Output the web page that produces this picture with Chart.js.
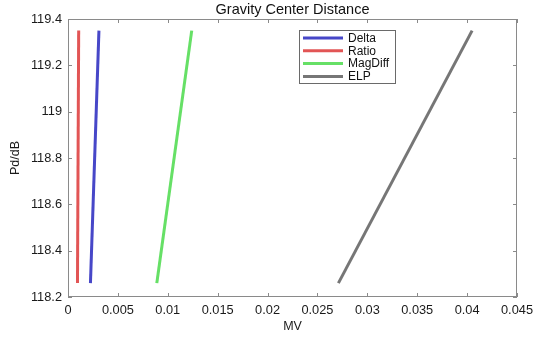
<!DOCTYPE html>
<html>
<head>
<meta charset="utf-8">
<script src="https://cdn.jsdelivr.net/npm/chart.js@4"></script>
<style>
html,body{margin:0;padding:0;background:#fff;}
#wrap{width:533px;height:338px;}
</style>
</head>
<body>
<div id="wrap"><canvas id="c" width="533" height="338"></canvas></div>
<script>
const chartTitle = "Gravity Center Distance";
const xTitle = "MV";
const yTitle = "Pd/dB";
const seriesNames = ["Delta", "Ratio", "MagDiff", "ELP"];
const seriesColors = ["#4747c8", "#e25555", "#66e066", "#767676"];
const yValues = [118.26, 119.35];
const deltaX = [0.00225, 0.0031];
const ratioX = [0.00095, 0.00107];
const magDiffX = [0.0089, 0.0124];
const elpX = [0.0271, 0.0405];
const xTicks = [0, 0.005, 0.01, 0.015, 0.02, 0.025, 0.03, 0.035, 0.04, 0.045];
const yTicks = [118.2, 118.4, 118.6, 118.8, 119, 119.2, 119.4];

const allX = [deltaX, ratioX, magDiffX, elpX];
const FONT = "'Liberation Sans', Arial, Helvetica, sans-serif";

function mk(xs) { return xs.map((x, i) => ({x: x, y: yValues[i]})); }

const datasets = seriesNames.map((n, i) => ({
  label: n,
  data: mk(allX[i]),
  showLine: true,
  borderColor: seriesColors[i],
  backgroundColor: seriesColors[i],
  borderWidth: 3,
  pointRadius: 0,
  fill: false
}));

const framePlugin = {
  id: 'frame',
  afterDraw(chart) {
    const ctx = chart.ctx;
    const a = chart.chartArea;
    const xs = chart.scales.x, ys = chart.scales.y;
    ctx.save();
    ctx.strokeStyle = '#8a8a8a';
    ctx.lineWidth = 1;
    ctx.strokeRect(a.left + 0.5, a.top + 0.5, a.right - a.left - 1, a.bottom - a.top - 1);
    ctx.beginPath();
    const tl = 4;
    xTicks.forEach(v => {
      const px = Math.round(xs.getPixelForValue(v)) + 0.5;
      ctx.moveTo(px, a.bottom); ctx.lineTo(px, a.bottom - tl);
      ctx.moveTo(px, a.top); ctx.lineTo(px, a.top + tl);
    });
    yTicks.forEach(v => {
      const py = Math.round(ys.getPixelForValue(v)) + 0.5;
      ctx.moveTo(a.left, py); ctx.lineTo(a.left + tl, py);
      ctx.moveTo(a.right, py); ctx.lineTo(a.right - tl, py);
    });
    ctx.stroke();

    // legend box
    const lx = a.left + 231, ly = a.top + 11, lw = 96, lh = 53;
    ctx.fillStyle = '#fff';
    ctx.fillRect(lx, ly, lw, lh);
    ctx.strokeStyle = '#6a6a6a';
    ctx.strokeRect(lx + 0.5, ly + 0.5, lw, lh);
    ctx.font = '12px ' + FONT;
    ctx.textBaseline = 'middle';
    ctx.textAlign = 'left';
    chart.data.datasets.forEach((ds, i) => {
      const cy = ly + 8 + i * 12.8;
      ctx.strokeStyle = ds.borderColor;
      ctx.lineWidth = 3;
      ctx.beginPath();
      ctx.moveTo(lx + 4, cy); ctx.lineTo(lx + 44, cy);
      ctx.stroke();
      ctx.fillStyle = '#111';
      ctx.fillText(ds.label, lx + 49, cy + 0.5);
    });
    ctx.restore();
  }
};

new Chart(document.getElementById('c'), {
  type: 'scatter',
  data: { datasets: datasets },
  options: {
    responsive: false,
    animation: false,
    layout: { autoPadding: false, padding: { top: 0, right: 16, left: 0, bottom: 0 } },
    plugins: {
      legend: { display: false },
      tooltip: { enabled: false },
      title: {
        display: true,
        text: chartTitle,
        fullSize: false,
        color: '#111',
        font: { family: FONT, size: 14.5, weight: 'normal' },
        padding: { top: 1.6, bottom: 0 }
      }
    },
    scales: {
      x: {
        type: 'linear',
        min: 0, max: 0.045,
        afterBuildTicks(s) { s.ticks = xTicks.map(v => ({value: v})); },
        afterFit(s) { s.height = 41; s.paddingLeft = 0; s.paddingRight = 0; },
        grid: { display: false, drawTicks: false },
        border: { display: false },
        ticks: {
          color: '#1a1a1a',
          padding: 6,
          maxRotation: 0,
          font: { family: FONT, size: 12.8 },
          callback: v => String(parseFloat(Number(v).toFixed(4)))
        },
        title: { display: true, text: xTitle, color: '#1a1a1a', font: { family: FONT, size: 12.5 }, padding: { top: 0, bottom: 4 } }
      },
      y: {
        type: 'linear',
        min: 118.2, max: 119.4,
        afterBuildTicks(s) { s.ticks = yTicks.map(v => ({value: v})); },
        afterFit(s) { s.width = 68; s.paddingTop = 0; s.paddingBottom = 0; },
        grid: { display: false, drawTicks: false },
        border: { display: false },
        ticks: {
          color: '#1a1a1a',
          padding: 6,
          font: { family: FONT, size: 12.8 },
          callback: v => String(parseFloat(Number(v).toFixed(2)))
        },
        title: { display: true, text: yTitle, color: '#1a1a1a', font: { family: FONT, size: 12.5 }, padding: { top: 8, bottom: 0 } }
      }
    }
  },
  plugins: [framePlugin]
});
</script>
</body>
</html>
